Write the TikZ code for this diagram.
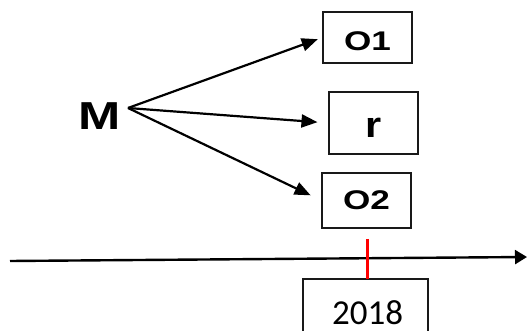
\documentclass[tikz,border=0pt]{standalone}
\usepackage{fontspec}
\usepackage{graphicx}
\setmainfont{Liberation Sans}
\newfontfamily\yearfont{Carlito}
\usetikzlibrary{arrows.meta}
% shift a label down inside its box without changing the box size
\newcommand{\lowered}[2]{\raisebox{-#1}[\height][\depth]{#2}}
\begin{document}
\begin{tikzpicture}[x=1pt,y=-1pt,
  lbl/.style={font=\bfseries\fontsize{27}{30}\selectfont},
  box/.style={draw=black!90, line width=1.1pt, minimum width=89pt, inner sep=0pt, lbl},
  link/.style={line width=2.2pt, -{Triangle[length=16pt,width=13pt]}},
  tickmark/.style={draw=red, line width=3pt},
]
\useasboundingbox (0,0) rectangle (528,331);
\clip (0,0) rectangle (528,331);

% outcome boxes
\node[box, minimum height=51pt] (o1) at (367.5,37.5) {\lowered{4pt}{\scalebox{1.3}[1]{O1}}};
\node[box, minimum height=62pt, font=\bfseries\fontsize{36}{40}\selectfont] (rr) at (373.5,123) {\lowered{5pt}{\scalebox{1.15}[1]{r}}};
\node[box, minimum height=55pt] (o2) at (366.5,200.5) {\scalebox{1.3}[1]{O2}};

% source label and fork point
\node[font=\bfseries\fontsize{39}{44}\selectfont, inner sep=0pt] (m) at (100,116) {\scalebox{1.3}[1]{M}};
\coordinate (fork) at (128,108);

\draw[link, shorten >=5pt] (fork) -- (o1.west);
\draw[link, shorten >=11pt] (fork) -- (rr.west);
\draw[link, shorten >=12pt] (fork) -- (o2.west);

% time axis
\coordinate (tl) at (10,261);
\coordinate (tr) at (527,257);
\draw[line width=2.4pt, -{Triangle[length=12pt,width=14pt]}] (tl) -- (tr);

% year marker: an open box that runs past the lower edge
\coordinate (ybl) at (303,333);
\coordinate (ytr) at (428,279);
\draw[draw=black!90, line width=1.1pt] (ybl) |- (ytr) -- (ytr |- ybl);
\node[inner sep=0pt, font=\yearfont\fontsize{35}{38}\selectfont, anchor=base] (yr) at (367.5,325) {2018};
\coordinate (tick) at (367,239);
\draw[tickmark] (tick) -- (tick |- ytr);
\end{tikzpicture}
\end{document}
